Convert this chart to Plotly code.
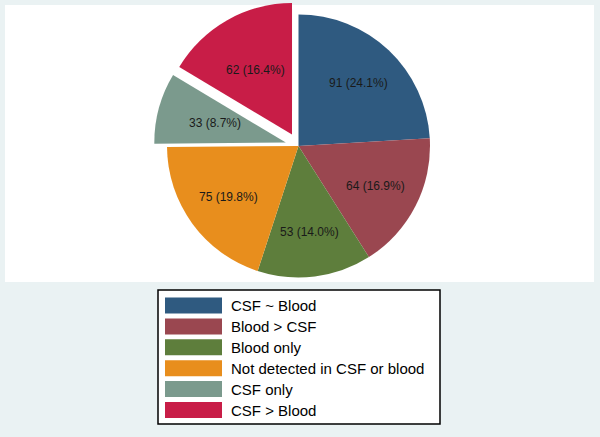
import math
import plotly.graph_objects as go

categories = ["CSF ~ Blood", "Blood > CSF", "Blood only",
              "Not detected in CSF or blood", "CSF only", "CSF > Blood"]
counts = [91, 64, 53, 75, 33, 62]
pulls = [0, 0, 0, 0, 0.1, 0.1]
colors = ["#2f5a80", "#9a4750", "#5e7e3c", "#e88e1d", "#7b9a8d", "#c81d47"]

W, H = 600, 437
CX, CY, R = 298.5, 146, 131.5   # pie centre / radius in pixels

def px(x):
    return x / W

def py(y):
    return 1 - y / H

half = R * (1 + max(pulls))

fig = go.Figure()
fig.add_trace(go.Pie(
    labels=categories,
    values=counts,
    pull=pulls,
    sort=False,
    direction="clockwise",
    rotation=0,
    marker=dict(colors=colors, line=dict(width=0)),
    textinfo="none",
    showlegend=False,
    hoverinfo="label+value+percent",
    domain=dict(x=[px(CX - half), px(CX + half)], y=[py(CY + half), py(CY - half)]),
))

shapes = []
annotations = []
# slice labels, placed at the mid-angle of each slice
total = sum(counts)
cum = 0
for v in counts:
    mid = (cum + v / 2) / total * 2 * math.pi
    cum += v
    d = 0.66 * R
    annotations.append(dict(xref="paper", yref="paper",
                            x=px(CX + d * math.sin(mid)), y=py(CY - d * math.cos(mid)),
                            text=f"{v} ({v / total * 100:.1f}%)", showarrow=False,
                            xanchor="center", yanchor="middle",
                            font=dict(family="Liberation Sans, Arial, sans-serif",
                                      size=12, color="#1a1a1a")))

# white plot region
shapes.append(dict(type="rect", xref="paper", yref="paper",
                   x0=px(5), x1=px(594), y0=py(282), y1=py(5),
                   fillcolor="white", line=dict(width=0), layer="below"))
# legend box
shapes.append(dict(type="rect", xref="paper", yref="paper",
                   x0=px(158), x1=px(440), y0=py(424), y1=py(290),
                   fillcolor="white", line=dict(color="black", width=1.5), layer="below"))
row_top = 297.5
row_step = 20.9
for i, (cat, col) in enumerate(zip(categories, colors)):
    t = row_top + i * row_step
    shapes.append(dict(type="rect", xref="paper", yref="paper",
                       x0=px(165), x1=px(222), y0=py(t + 16), y1=py(t),
                       fillcolor=col, line=dict(width=0)))
    annotations.append(dict(xref="paper", yref="paper", x=px(229), y=py(t + 8),
                            text=cat, showarrow=False, xanchor="left", yanchor="middle",
                            font=dict(family="Liberation Sans, Arial, sans-serif",
                                      size=15, color="black")))

fig.update_layout(
    width=W, height=H,
    margin=dict(l=0, r=0, t=0, b=0),
    paper_bgcolor="#eaf2f3",
    plot_bgcolor="#eaf2f3",
    shapes=shapes,
    annotations=annotations,
)

fig.write_html("out.html", config={"displayModeBar": False},
               post_script="document.body.style.margin='0';")
